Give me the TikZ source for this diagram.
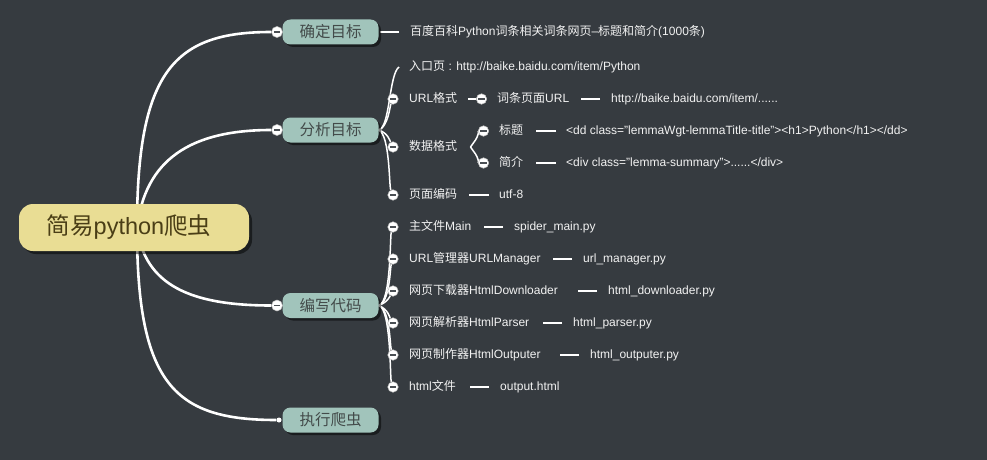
\documentclass[tikz,border=0pt]{standalone}
\usepackage{fontspec}
\setmainfont{Liberation Sans}
\newfontfamily\cjk{Noto Sans CJK SC}
\usetikzlibrary{shadows}
\definecolor{bgc}{HTML}{363B40}
\definecolor{rootfill}{HTML}{E9DD94}
\definecolor{roottext}{HTML}{4A3E16}
\definecolor{brfill}{HTML}{A1C4BB}
\definecolor{brtext}{HTML}{434B4A}
\definecolor{txtc}{HTML}{F2F2F2}
\definecolor{minusc}{HTML}{4A4F54}
\newcommand\C[1]{{\cjk #1}}
\pgfdeclarelayer{bglayer}
\pgfsetlayers{bglayer,main}
\begin{document}
\begin{tikzpicture}[x=1pt,y=-1pt,
  rootbox/.style={rounded corners=14pt, fill=rootfill, minimum width=230pt, minimum height=47pt, inner sep=0pt, text=roottext, font=\fontsize{23.5}{27}\selectfont, drop shadow={shadow xshift=3pt, shadow yshift=-3pt, opacity=0.5, fill=black}},
  brbox/.style={rounded corners=8pt, fill=brfill, minimum width=96pt, minimum height=25pt, inner sep=0pt, text=brtext, font=\fontsize{15.5}{18}\selectfont, drop shadow={shadow xshift=2.5pt, shadow yshift=-2.5pt, opacity=0.5, fill=black}},
  txt/.style={anchor=west, inner sep=0pt, text=txtc, text height=9.5pt, text depth=2.5pt, font=\fontsize{12}{14}\selectfont},
  mc/.style={circle, fill=white, draw=black!25, line width=0.5pt, minimum size=#1, inner sep=0pt, path picture={\fill[minusc] ([xshift=-3.4pt,yshift=-0.85pt]path picture bounding box.center) rectangle ([xshift=3.4pt,yshift=0.85pt]path picture bounding box.center);}},
  mc/.default=10.5pt,
  rootline/.style={white, line width=2.6pt},
  subline/.style={white, line width=1.5pt},
  dashl/.style={white, line width=2pt},
]
\begin{pgfonlayer}{bglayer}
\fill[bgc] (0,0) rectangle (987,460);
\end{pgfonlayer}
\useasboundingbox (0,0) rectangle (987,460);

% root and branches
\node[rootbox] (root) at (134,227.5) {\C{简易}python\C{爬虫}\kern10pt};
\node[brbox] (b1) at (330.5,32) {\C{确定目标}};
\node[brbox] (b2) at (330.5,130) {\C{分析目标}};
\node[brbox] (b3) at (330.5,305.5) {\C{编写代码}};
\node[brbox] (b4) at (330.5,420) {\C{执行爬虫}};
\node[mc=11pt] (k1) at (277,32) {};
\node[mc=11pt] (k2) at (277,130) {};
\node[mc=11pt] (k3) at (277,305.5) {};
\node[circle, fill=white, inner sep=0pt, minimum size=5pt] (k4) at (279,420) {};
\coordinate (rc) at (137,228);

% branch 1
\node[txt] (t1) at (410,32) {\C{百度百科}Python\C{词条相关词条网页}--\C{标题和简介}(1000\C{条})};

% branch 2
\node[txt] (entry) at (409,67) {\C{入口页} : http://baike.baidu.com/item/Python};
\node[mc] (c1) at (393,99) {};
\node[txt] (urlf) at (409,99) {URL\C{格式}};
\node[mc] (u1) at (481.5,99) {};
\node[txt] (urlp) at (497,99) {\C{词条页面}URL};
\node[txt] (urlv) at (611,99) {http://baike.baidu.com/item/......};
\node[mc] (c2) at (393,147) {};
\node[txt] (dataf) at (409,147) {\C{数据格式}};
\node[mc] (s1) at (483.5,131) {};
\node[mc] (s2) at (483.5,163) {};
\node[txt] (title) at (499,131) {\C{标题}};
\node[txt] (titlev) at (566,131) {<dd class="lemmaWgt-lemmaTitle-title"><h1>Python</h1></dd>};
\node[txt] (summ) at (499,163) {\C{简介}};
\node[txt] (summv) at (566,163) {<div class="lemma-summary">......</div>};
\node[mc] (c3) at (393,195) {};
\node[txt] (enc) at (409,195) {\C{页面编码}};
\node[txt] (encv) at (499,195) {utf-8};

% branch 3
\node[mc] (e1) at (393,227) {};
\node[mc] (e2) at (393,259) {};
\node[mc] (e3) at (393,291) {};
\node[mc] (e4) at (393,323) {};
\node[mc] (e5) at (393,355) {};
\node[mc] (e6) at (393,387) {};
\node[txt] (f1) at (409,227) {\C{主文件}Main};
\node[txt] (f2) at (409,259) {URL\C{管理器}URLManager};
\node[txt] (f3) at (409,291) {\C{网页下载器}HtmlDownloader};
\node[txt] (f4) at (409,323) {\C{网页解析器}HtmlParser};
\node[txt] (f5) at (409,355) {\C{网页制作器}HtmlOutputer};
\node[txt] (f6) at (409,387) {html\C{文件}};
\node[txt] (g1) at (514,227) {spider\_main.py};
\node[txt] (g2) at (583,259) {url\_manager.py};
\node[txt] (g3) at (608,291) {html\_downloader.py};
\node[txt] (g4) at (573,323) {html\_parser.py};
\node[txt] (g5) at (590,355) {html\_outputer.py};
\node[txt] (g6) at (500,387) {output.html};

\begin{pgfonlayer}{bglayer}
% root curves
\draw[rootline] (rc) .. controls (137,70) and (175,32) .. (k1);
\draw[rootline] (rc) .. controls (145,160) and (190,130) .. (k2);
\draw[rootline] (rc) .. controls (145,285) and (190,305.5) .. (k3);
\draw[rootline] (rc) .. controls (137,385) and (175,420) .. (k4);
% branch 1 dash
\draw[dashl] ([xshift=-11pt]t1.west) -- ([xshift=-30pt]t1.west);
% branch 2 curves
\draw[subline] (b2.east) .. controls (390,128) and (389,74) .. ([xshift=-10pt]entry.west);
\draw[subline] (b2.east) .. controls (388,127) and (390,106) .. (c1);
\draw[subline] (b2.east) .. controls (388,133) and (390,141) .. (c2);
\draw[subline] (b2.east) .. controls (390,135) and (389,186) .. (c3);
\draw[subline] (u1) -- ([xshift=-14pt]u1.center);
\draw[subline] ([xshift=-13pt]s1.center) ++(0,16) coordinate (bk) -- ++(5,-7) .. controls +(2,-3) and +(-4,0) .. (s1);
\draw[subline] (bk) -- ++(5,7) .. controls +(2,3) and +(-4,0) .. (s2);
\draw[dashl] ([xshift=-11pt]urlv.west) -- ([xshift=-30pt]urlv.west);
\draw[dashl] ([xshift=-10pt]titlev.west) -- ([xshift=-30pt]titlev.west);
\draw[dashl] ([xshift=-10pt]summv.west) -- ([xshift=-30pt]summv.west);
\draw[dashl] ([xshift=-10pt]encv.west) -- ([xshift=-30pt]encv.west);
% branch 3 curves
\draw[subline] (b3.east) .. controls (391,303) and (390,236) .. (e1);
\draw[subline] (b3.east) .. controls (390,302) and (390,268) .. (e2);
\draw[subline] (b3.east) .. controls (388,302) and (390,296) .. (e3);
\draw[subline] (b3.east) .. controls (388,309) and (390,318) .. (e4);
\draw[subline] (b3.east) .. controls (390,309) and (390,346) .. (e5);
\draw[subline] (b3.east) .. controls (391,308) and (390,378) .. (e6);
\foreach \g in {g1,g2,g3,g4,g5,g6}
  \draw[dashl] ([xshift=-11pt]\g.west) -- ([xshift=-30pt]\g.west);
\end{pgfonlayer}
\end{tikzpicture}
\end{document}
